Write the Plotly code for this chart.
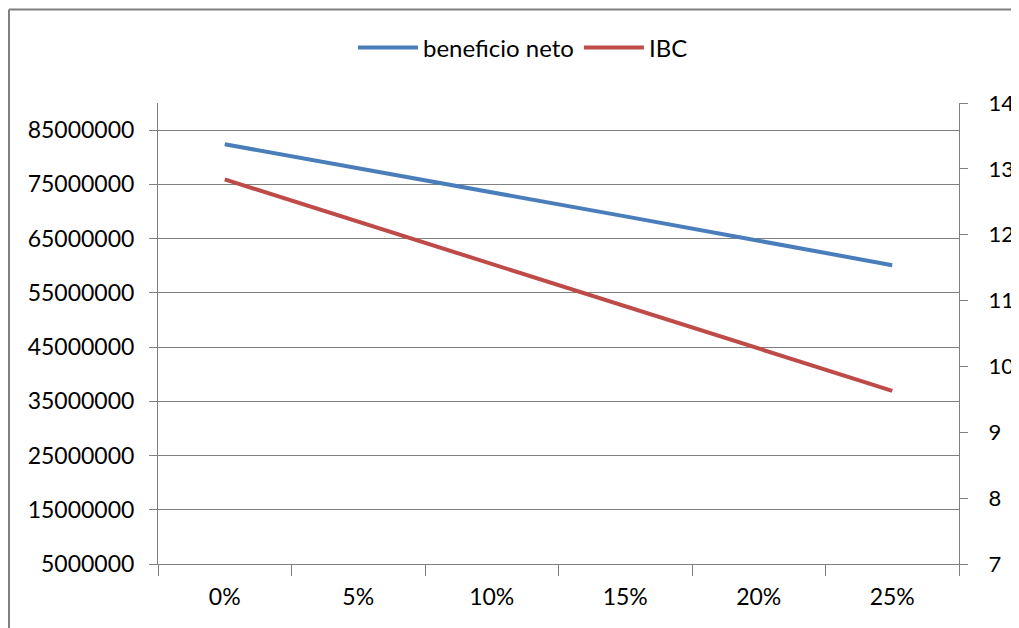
import plotly.graph_objects as go

categories = ["0%", "5%", "10%", "15%", "20%", "25%"]
beneficio_neto = [82400000, 78000000, 73500000, 69100000, 64600000, 60100000]
ibc = [12.84, 12.20, 11.55, 10.91, 10.27, 9.63]
left_ticks = [5000000, 15000000, 25000000, 35000000, 45000000, 55000000, 65000000, 75000000, 85000000]
right_ticks = [7, 8, 9, 10, 11, 12, 13, 14]

BLUE = "#4A7EBB"
RED = "#BE4B48"
GRID = "#808080"
FONT = "Lato"

fig = go.Figure()
fig.add_trace(go.Scatter(x=categories, y=beneficio_neto, name="beneficio neto",
                         mode="lines", line=dict(color=BLUE, width=4), yaxis="y"))
fig.add_trace(go.Scatter(x=categories, y=ibc, name="IBC",
                         mode="lines", line=dict(color=RED, width=4), yaxis="y2"))

# page body has an 8px margin, so figure coords = window coords - 8
OFF = 8
W, H = 1011, 620
L, R, T, B = 150, 60, 95, 64
pw, ph = W - L - R, H - T - B

def px_x(p):
    return (p - OFF - L) / pw

def px_y(p):
    return (H - B - (p - OFF)) / ph

fig.update_layout(
    width=W, height=H,
    margin=dict(l=L, r=R, t=T, b=B, autoexpand=False),
    paper_bgcolor="white", plot_bgcolor="white",
    font=dict(family=FONT, size=23, color="#000000"),
    showlegend=True,
    legend=dict(orientation="h", x=px_x(523), y=px_y(48), xanchor="center", yanchor="middle",
                font=dict(family=FONT, size=24), itemwidth=60, bgcolor="rgba(0,0,0,0)"),
    xaxis=dict(type="category", range=[-0.5, 5.5], showgrid=False, showline=True,
               linecolor=GRID, linewidth=1, ticks="outside", tickson="boundaries",
               ticklen=11, tickcolor=GRID, tickfont=dict(family=FONT, size=23), zeroline=False,
               ticklabelstandoff=12, automargin=False),
    yaxis=dict(range=[5000000, 90000000], tickvals=left_ticks,
               ticktext=[str(v) for v in left_ticks],
               showgrid=True, gridcolor=GRID, gridwidth=1, showline=True, linecolor=GRID,
               ticks="outside", ticklen=8, tickcolor=GRID, zeroline=False,
               tickfont=dict(family=FONT, size=23), ticklabelstandoff=10, automargin=False),
    yaxis2=dict(range=[7, 14], tickvals=right_ticks, overlaying="y", side="right",
                showgrid=False, showline=True, linecolor=GRID, ticks="outside", ticklen=8,
                tickcolor=GRID, zeroline=False, tickfont=dict(family=FONT, size=22),
                ticklabelstandoff=16, automargin=False),
    shapes=[
        dict(type="line", xref="paper", yref="paper",
             x0=px_x(9), x1=px_x(1040), y0=px_y(9.5), y1=px_y(9.5),
             line=dict(color=GRID, width=2), layer="below"),
        dict(type="line", xref="paper", yref="paper",
             x0=px_x(9), x1=px_x(9), y0=px_y(9.5), y1=px_y(660),
             line=dict(color=GRID, width=2), layer="below"),
    ],
)

fig.write_html("out.html")
